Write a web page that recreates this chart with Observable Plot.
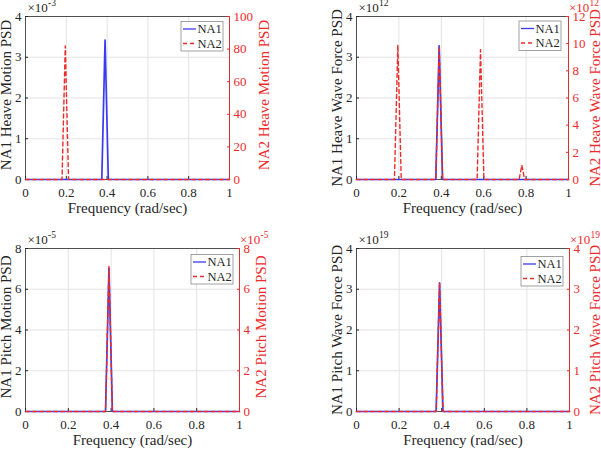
<!DOCTYPE html>
<html>
<head>
<meta charset="utf-8">
<script src="https://cdn.jsdelivr.net/npm/d3@7"></script>
<script src="https://cdn.jsdelivr.net/npm/@observablehq/plot@0.6"></script>
<style>
  body { margin: 0; background: #fff; }
  #chart { position: relative; width: 601px; height: 451px; overflow: hidden; background: #fff; }
  .panel { position: absolute; }
  .panel svg { position: absolute; left: 0; top: 0; overflow: visible; max-width: none; }
</style>
</head>
<body>
<div id="chart"></div>
<script>
const FONT = '"Liberation Serif", "Times New Roman", serif';
const INK = "#262626";
const BLUE = "#3a3af2";
const RED = "#ee2b2b";
const GRID = "#e3e3e3";

// shared frequency axis (rad/sec)
const freqTicks = [0, 0.2, 0.4, 0.6, 0.8, 1];
const xLabel = "Frequency (rad/sec)";
const seriesNames = ["NA1", "NA2"];

// Heave motion PSD
const heaveMotionFreqNA1 = [0, 0.374, 0.39, 0.406, 1];
const heaveMotionNA1 = [0, 0, 3.42e-3, 0, 0];
const heaveMotionFreqNA2 = [0, 0.179, 0.195, 0.211, 1];
const heaveMotionNA2 = [0, 0, 82, 0, 0];
const heaveMotionTicksNA1 = [0, 1e-3, 2e-3, 3e-3, 4e-3];
const heaveMotionTicksNA2 = [0, 20, 40, 60, 80, 100];

// Heave wave force PSD
const heaveForceFreqNA1 = [0, 0.374, 0.39, 0.406, 1];
const heaveForceNA1 = [0, 0, 3.28e12, 0, 0];
const heaveForceFreqNA2 = [0, 0.179, 0.195, 0.211, 0.374, 0.39, 0.406, 0.569, 0.585, 0.601, 0.767, 0.78, 0.793, 1];
const heaveForceNA2 = [0, 0, 9.9e12, 0, 0, 9.8e12, 0, 0, 9.55e12, 0, 0, 1.05e12, 0, 0];
const heaveForceTicksNA1 = [0, 1e12, 2e12, 3e12, 4e12];
const heaveForceTicksNA2 = [0, 2e12, 4e12, 6e12, 8e12, 10e12, 12e12];

// Pitch motion PSD
const pitchMotionFreqNA1 = [0, 0.374, 0.39, 0.406, 1];
const pitchMotionNA1 = [0, 0, 7.02e-5, 0, 0];
const pitchMotionFreqNA2 = [0, 0.374, 0.39, 0.406, 1];
const pitchMotionNA2 = [0, 0, 7.12e-5, 0, 0];
const pitchMotionTicksNA1 = [0, 2e-5, 4e-5, 6e-5, 8e-5];
const pitchMotionTicksNA2 = [0, 2e-5, 4e-5, 6e-5, 8e-5];

// Pitch wave force PSD
const pitchForceFreqNA1 = [0, 0.374, 0.39, 0.406, 1];
const pitchForceNA1 = [0, 0, 3.16e19, 0, 0];
const pitchForceFreqNA2 = [0, 0.374, 0.39, 0.406, 1];
const pitchForceNA2 = [0, 0, 3.17e19, 0, 0];
const pitchForceTicksNA1 = [0, 1e19, 2e19, 3e19, 4e19];
const pitchForceTicksNA2 = [0, 1e19, 2e19, 3e19, 4e19];

const toRows = (f, v) => f.map((x, i) => ({f: x, v: v[i]}));
const fmtFreq = d3.format("~g");
const fmtScaled = (e) => (d) => d3.format("~g")(+(d / 10 ** e).toFixed(6));

// layout of the four panels: svg box, margins, label positions, legend box
const panels = [
  {ox: 0, oy: 0, w: 300, h: 225, ml: 25, mr: 71, mt: 16, mb: 46,
   na1: toRows(heaveMotionFreqNA1, heaveMotionNA1), na2: toRows(heaveMotionFreqNA2, heaveMotionNA2),
   ticks1: heaveMotionTicksNA1, ticks2: heaveMotionTicksNA2, exp1: -3, exp2: 0,
   label1: "NA1 Heave Motion PSD", label2: "NA2 Heave Motion PSD",
   label1X: 6, label2X: 264, labelDy: -3, legend: [181, 21.5]},
  {ox: 300, oy: 0, w: 301, h: 225, ml: 56, mr: 33, mt: 16, mb: 46,
   na1: toRows(heaveForceFreqNA1, heaveForceNA1), na2: toRows(heaveForceFreqNA2, heaveForceNA2),
   ticks1: heaveForceTicksNA1, ticks2: heaveForceTicksNA2, exp1: 12, exp2: 12,
   label1: "NA1 Heave Wave Force PSD", label2: "NA2 Heave Wave Force PSD",
   label1X: 336.7, label2X: 595, labelDy: 0, legend: [519, 21]},
  {ox: 0, oy: 225, w: 300, h: 226, ml: 25, mr: 61, mt: 23, mb: 40,
   na1: toRows(pitchMotionFreqNA1, pitchMotionNA1), na2: toRows(pitchMotionFreqNA2, pitchMotionNA2),
   ticks1: pitchMotionTicksNA1, ticks2: pitchMotionTicksNA2, exp1: -5, exp2: -5,
   label1: "NA1 Pitch Motion PSD", label2: "NA2 Pitch Motion PSD",
   label1X: 5.5, label2X: 261, labelDy: -3, legend: [191, 254.5]},
  {ox: 300, oy: 225, w: 301, h: 226, ml: 56, mr: 32, mt: 23, mb: 40,
   na1: toRows(pitchForceFreqNA1, pitchForceNA1), na2: toRows(pitchForceFreqNA2, pitchForceNA2),
   ticks1: pitchForceTicksNA1, ticks2: pitchForceTicksNA2, exp1: 19, exp2: 19,
   label1: "NA1 Pitch Wave Force PSD", label2: "NA2 Pitch Wave Force PSD",
   label1X: 336.7, label2X: 595, labelDy: 0, legend: [521, 256.5]}
];

// "×10^n" multiplier drawn above an axis
function exponentMarks(e, anchor, dx, color) {
  if (!e) return [];
  return [
    Plot.text(["×10"], {text: (d) => d, frameAnchor: anchor, textAnchor: "start", lineAnchor: "bottom",
      dx, dy: -5, fontSize: 13, fill: color}),
    Plot.text([String(e)], {text: (d) => d, frameAnchor: anchor, textAnchor: "start", lineAnchor: "bottom",
      dx: dx + 20.5, dy: -11, fontSize: 9.5, fill: color})
  ];
}

function base(p) {
  return {
    width: p.w, height: p.h,
    marginLeft: p.ml, marginRight: p.mr, marginTop: p.mt, marginBottom: p.mb,
    style: {background: "transparent", overflow: "visible", fontFamily: FONT, fontSize: "13px", color: INK}
  };
}

const chart = document.getElementById("chart");

for (const p of panels) {
  const div = document.createElement("div");
  div.className = "panel";
  div.style.left = p.ox + "px";
  div.style.top = p.oy + "px";
  div.style.width = p.w + "px";
  div.style.height = p.h + "px";
  chart.appendChild(div);

  const top1 = Math.max(...p.ticks1);
  const top2 = Math.max(...p.ticks2);

  // left axis, grid and NA1 curve
  const back = Plot.plot({
    ...base(p),
    x: {domain: [0, 1]},
    y: {domain: [0, top1]},
    marks: [
      Plot.gridX(freqTicks.slice(1, -1), {stroke: GRID, strokeOpacity: 1}),
      Plot.gridY(p.ticks1.slice(1, -1), {stroke: GRID, strokeOpacity: 1}),
      Plot.frame({stroke: INK, strokeWidth: 0.8}),
      Plot.axisX(freqTicks, {tickSize: -3, tickPadding: 10.8, tickFormat: fmtFreq, label: null,
        color: INK, fontSize: 13}),
      Plot.axisY(p.ticks1, {tickSize: -3, tickPadding: 7, tickFormat: fmtScaled(p.exp1), label: null,
        color: INK, fontSize: 13}),
      Plot.line(p.na1, {x: "f", y: "v", stroke: BLUE, strokeWidth: 1.7}),
      Plot.text([xLabel], {text: (d) => d, frameAnchor: "bottom", textAnchor: "middle", lineAnchor: "bottom",
        dy: 33, fontSize: 15, fill: INK}),
      Plot.text([p.label1], {text: (d) => d, frameAnchor: "left", textAnchor: "middle", lineAnchor: "middle",
        rotate: -90, dx: p.label1X - p.ox - p.ml, dy: p.labelDy, fontSize: 15, fill: INK}),
      ...exponentMarks(p.exp1, "top-left", 2, INK)
    ]
  });

  // right axis and NA2 curve
  const front = Plot.plot({
    ...base(p),
    x: {domain: [0, 1], axis: null},
    y: {domain: [0, top2]},
    marks: [
      Plot.ruleX([1], {stroke: RED, strokeWidth: 0.9}),
      Plot.axisY(p.ticks2, {anchor: "right", tickSize: -3, tickPadding: 7, tickFormat: fmtScaled(p.exp2),
        label: null, color: RED, fontSize: 13}),
      Plot.line(p.na2, {x: "f", y: "v", stroke: RED, strokeWidth: 1.4, strokeDasharray: "4,3"}),
      Plot.text([p.label2], {text: (d) => d, frameAnchor: "right", textAnchor: "middle", lineAnchor: "middle",
        rotate: -90, dx: p.label2X - (p.ox + p.w - p.mr), dy: p.labelDy, fontSize: 15, fill: RED}),
      ...exponentMarks(p.exp2, "top-right", 0.5, RED)
    ]
  });

  div.appendChild(back);
  div.appendChild(front);

  // legend box in the upper right of the axes
  const lx = p.legend[0] - p.ox, ly = p.legend[1] - p.oy;
  const lw = 42, lh = 29.5;
  const g = d3.select(div).append("svg")
    .attr("width", p.w).attr("height", p.h)
    .append("g").attr("transform", `translate(${lx},${ly})`);
  g.append("rect").attr("width", lw).attr("height", lh)
    .attr("fill", "#fff").attr("stroke", "#8a8a8a").attr("stroke-width", 0.8);
  seriesNames.forEach((name, i) => {
    const y = 7.5 + i * 14.5;
    g.append("line").attr("x1", 2).attr("x2", 15).attr("y1", y).attr("y2", y)
      .attr("stroke", i === 0 ? BLUE : RED).attr("stroke-width", 1.3)
      .attr("stroke-dasharray", i === 0 ? null : "4,3");
    g.append("text").attr("x", 16.5).attr("y", y).attr("dy", "0.34em")
      .attr("font-family", FONT).attr("font-size", 12.5).attr("fill", INK).text(name);
  });
}
</script>
</body>
</html>
